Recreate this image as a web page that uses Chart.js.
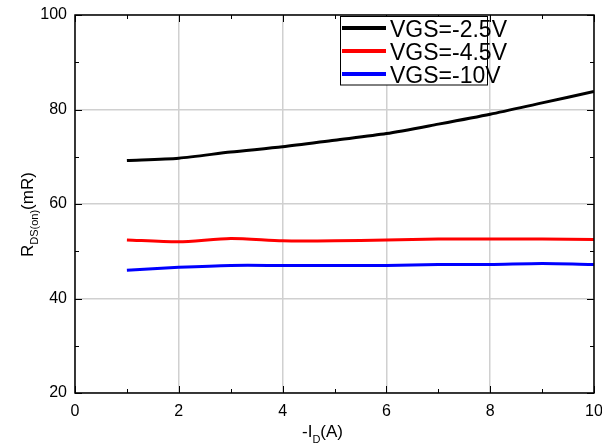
<!DOCTYPE html>
<html lang="en">
<head>
  <meta charset="UTF-8">
  <title>RDS(on) vs -ID</title>
  <script src="https://cdn.jsdelivr.net/npm/chart.js"></script>
  <style>
    body { margin: 0; padding: 0; background: #fff; }
    #wrap { width: 602px; height: 446px; }
  </style>
</head>
<body>
  <div id="wrap"><canvas id="rdsChart"></canvas></div>

  <script>
    // -ID (A)
    const currents = [1, 2, 3, 4, 5, 6, 7, 8, 9, 10];
    // RDS(on) (mR)
    const rdsVgs25 = [69.2, 69.7, 71.0, 72.1, 73.5, 74.9, 76.9, 79.0, 81.4, 83.8];
    const rdsVgs45 = [52.4, 52.0, 52.7, 52.2, 52.2, 52.4, 52.6, 52.6, 52.6, 52.5];
    const rdsVgs10 = [46.0, 46.6, 47.0, 47.0, 47.0, 47.0, 47.2, 47.2, 47.4, 47.2];
    const seriesLabels = ['VGS=-2.5V', 'VGS=-4.5V', 'VGS=-10V'];
    const seriesColors = ['#000000', '#ff0000', '#0000ff'];

    const toPoints = ys => currents.map((x, i) => ({ x: x, y: ys[i] }));

    // frame, inward ticks, legend box and axis titles with subscripts
    const decorations = {
      id: 'decorations',
      afterDraw(chart) {
        const ctx = chart.ctx;
        const { left, right, top, bottom } = chart.chartArea;
        const xs = chart.scales.x, ys = chart.scales.y;
        ctx.save();
        ctx.strokeStyle = '#000';
        ctx.lineWidth = 1.5;
        ctx.strokeRect(left, top, right - left, bottom - top);

        ctx.lineWidth = 1;
        ctx.beginPath();
        for (let v = 0; v <= 10; v++) {
          const px = Math.round(xs.getPixelForValue(v)) + 0.5;
          const len = v % 2 === 0 ? 7 : 4;
          ctx.moveTo(px, bottom); ctx.lineTo(px, bottom - len);
          ctx.moveTo(px, top); ctx.lineTo(px, top + len);
        }
        for (let v = 20; v <= 100; v += 10) {
          const py = Math.round(ys.getPixelForValue(v)) + 0.5;
          const len = v % 20 === 0 ? 7 : 4;
          ctx.moveTo(left, py); ctx.lineTo(left + len, py);
          ctx.moveTo(right, py); ctx.lineTo(right - len, py);
        }
        ctx.stroke();

        // legend
        ctx.fillStyle = '#fff';
        ctx.fillRect(340, 16, 148, 69);
        ctx.strokeStyle = '#000';
        ctx.lineWidth = 1;
        ctx.strokeRect(340.5, 16.5, 147, 68.5);
        const rows = [28, 51, 74];
        ctx.font = '23px "Liberation Sans Narrow", "Liberation Sans", Arial, sans-serif';
        ctx.textBaseline = 'alphabetic';
        ctx.textAlign = 'left';
        chart.data.datasets.forEach((ds, i) => {
          ctx.strokeStyle = ds.borderColor;
          ctx.lineWidth = 4;
          ctx.beginPath();
          ctx.moveTo(342, rows[i]); ctx.lineTo(386, rows[i]);
          ctx.stroke();
          ctx.fillStyle = '#000';
          ctx.fillText(ds.label, 390, rows[i] + 8.5);
        });

        // x title: -I_D(A)
        ctx.fillStyle = '#000';
        const big = '17px "Liberation Sans", Arial, sans-serif';
        const sub = '11px "Liberation Sans", Arial, sans-serif';
        let cx = 302, by = 437;
        ctx.font = big; ctx.fillText('-I', cx, by); cx += ctx.measureText('-I').width;
        ctx.font = sub; ctx.fillText('D', cx, by + 6); cx += ctx.measureText('D').width;
        ctx.font = big; ctx.fillText('(A)', cx, by);

        // y title: R_DS(on)(mR), rotated
        ctx.translate(33, 257);
        ctx.rotate(-Math.PI / 2);
        let tx = 0;
        ctx.font = big; ctx.fillText('R', tx, 0); tx += ctx.measureText('R').width;
        ctx.font = sub; ctx.fillText('DS(on)', tx, 5); tx += ctx.measureText('DS(on)').width;
        ctx.font = big; ctx.fillText('(mR)', tx, 0);
        ctx.restore();
      }
    };

    const ctx = document.getElementById('rdsChart').getContext('2d');
    new Chart(ctx, {
      type: 'line',
      data: {
        datasets: [rdsVgs25, rdsVgs45, rdsVgs10].map((ys, i) => ({
          label: seriesLabels[i],
          data: toPoints(ys),
          borderColor: seriesColors[i],
          backgroundColor: seriesColors[i],
          borderWidth: 3,
          pointRadius: 0,
          fill: false,
          tension: 0.25
        }))
      },
      options: {
        responsive: true,
        maintainAspectRatio: false,
        animation: false,
        layout: { padding: { top: 15, right: 8, left: 0, bottom: 0 } },
        scales: {
          x: {
            type: 'linear',
            min: 0, max: 10,
            ticks: { stepSize: 2, color: '#000', padding: 9, font: { family: '"Liberation Sans", Arial', size: 16 } },
            grid: { color: '#d0d0d0', lineWidth: 1.5, drawTicks: false },
            border: { display: false },
            afterFit(scale) {
              scale.height = 53;
              scale.paddingLeft = 0;
              scale.paddingRight = 0;
            }
          },
          y: {
            min: 20, max: 100,
            ticks: { stepSize: 20, color: '#000', padding: 8, font: { family: '"Liberation Sans", Arial', size: 16 } },
            grid: { color: '#d0d0d0', lineWidth: 1.5, drawTicks: false },
            border: { display: false },
            afterFit(scale) {
              scale.width = 75;
              scale.paddingTop = 0;
              scale.paddingBottom = 0;
            }
          }
        },
        plugins: {
          legend: { display: false },
          tooltip: { enabled: false }
        }
      },
      plugins: [decorations]
    });
  </script>
</body>
</html>
